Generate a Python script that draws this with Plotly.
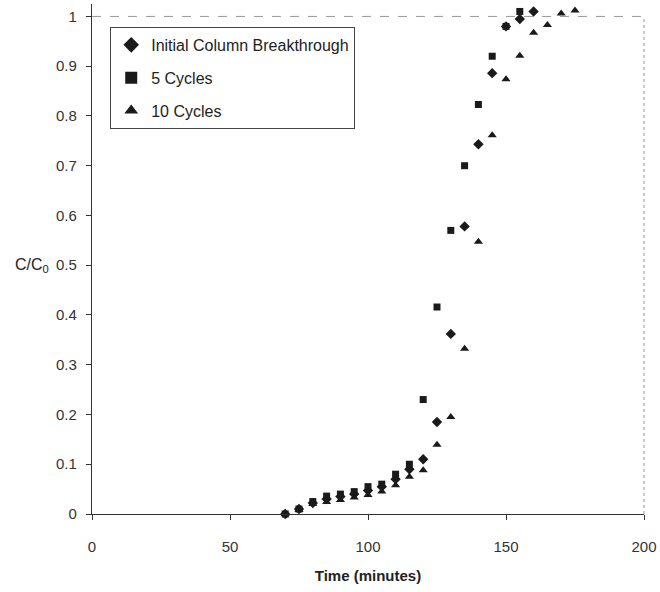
import plotly.graph_objects as go

initial_t = [70, 75, 80, 85, 90, 95, 100, 105, 110, 115, 120, 125, 130, 135, 140, 145, 150, 155, 160]
initial_c = [0.0, 0.01, 0.022, 0.03, 0.035, 0.04, 0.047, 0.055, 0.07, 0.09, 0.11, 0.185, 0.362, 0.578, 0.743, 0.886, 0.98, 0.995, 1.01]

cyc5_t = [70, 75, 80, 85, 90, 95, 100, 105, 110, 115, 120, 125, 130, 135, 140, 145, 150, 155]
cyc5_c = [0.0, 0.01, 0.025, 0.036, 0.04, 0.045, 0.055, 0.06, 0.08, 0.10, 0.23, 0.416, 0.57, 0.70, 0.823, 0.92, 0.98, 1.01]

cyc10_t = [70, 75, 80, 85, 90, 95, 100, 105, 110, 115, 120, 125, 130, 135, 140, 145, 150, 155, 160, 165, 170, 175]
cyc10_c = [0.0, 0.008, 0.02, 0.024, 0.028, 0.033, 0.038, 0.045, 0.058, 0.075, 0.088, 0.139, 0.195, 0.332, 0.547, 0.761, 0.874, 0.921, 0.967, 0.983, 1.006, 1.012]

x_ticks = [0, 50, 100, 150, 200]
y_ticks = [0, 0.1, 0.2, 0.3, 0.4, 0.5, 0.6, 0.7, 0.8, 0.9, 1]
y_tick_text = ["0", "0.1", "0.2", "0.3", "0.4", "0.5", "0.6", "0.7", "0.8", "0.9", "1"]

FONT = "Liberation Sans Narrow, Liberation Sans, Arial, sans-serif"
INK = "#1a1a1a"

Y_TOP = 1.025  # a little headroom so points at ~1.01 are not hidden

fig = go.Figure()
fig.add_trace(go.Scatter(x=initial_t, y=initial_c, mode="markers", name="Initial Column Breakthrough",
                         legendgroup="a",
                         marker=dict(symbol="diamond", size=8, color=INK), cliponaxis=False))
fig.add_trace(go.Scatter(x=cyc5_t, y=cyc5_c, mode="markers", name="5 Cycles",
                         legendgroup="b",
                         marker=dict(symbol="square", size=7, color=INK), cliponaxis=False))
fig.add_trace(go.Scatter(x=cyc10_t, y=cyc10_c, mode="markers", name="10 Cycles",
                         legendgroup="c",
                         marker=dict(symbol="triangle-up", size=8, color=INK), cliponaxis=False))

fig.update_layout(
    width=660, height=592,
    margin=dict(l=92, r=16, t=4, b=78),
    paper_bgcolor="white", plot_bgcolor="white",
    font=dict(family=FONT, size=14, color="#333"),
    showlegend=True,
    legend=dict(x=0.033, y=0.955, xanchor="left", yanchor="top",
                bgcolor="white", bordercolor="#444", borderwidth=1,
                font=dict(family=FONT, size=16, color="#222"),
                itemsizing="constant", tracegroupgap=9,
                itemwidth=30),
    xaxis=dict(range=[0, 200], tickvals=x_ticks, showgrid=False, zeroline=False,
               showline=True, linecolor="#333", linewidth=1.2,
               ticks="outside", ticklen=5, tickcolor="#333",
               ticklabelstandoff=14,
               tickfont=dict(family=FONT, size=15, color="#333"),
               title=dict(text="<b>Time (minutes)</b>", font=dict(family=FONT, size=15, color="#222"), standoff=16)),
    yaxis=dict(range=[0, Y_TOP], tickvals=y_ticks, ticktext=y_tick_text, showgrid=False, zeroline=False,
               showline=True, linecolor="#333", linewidth=1.2,
               ticks="outside", ticklen=5, tickcolor="#333",
               ticklabelstandoff=6,
               tickfont=dict(family=FONT, size=15, color="#333")),
)

# scanned-looking light border on top and right
fig.add_shape(type="line", xref="paper", yref="y", x0=0, x1=1, y0=1, y1=1,
              line=dict(color="#999", width=1, dash="dash"))
fig.add_shape(type="line", xref="paper", yref="y", x0=1, x1=1, y0=0, y1=1,
              line=dict(color="#999", width=1, dash="dot"))

fig.add_annotation(text="C/C<sub>0</sub>", xref="paper", yref="y", x=-0.075, y=0.5,
                   xanchor="right", yanchor="middle", showarrow=False,
                   font=dict(family=FONT, size=16, color="#222"))

fig.write_html("out.html")
